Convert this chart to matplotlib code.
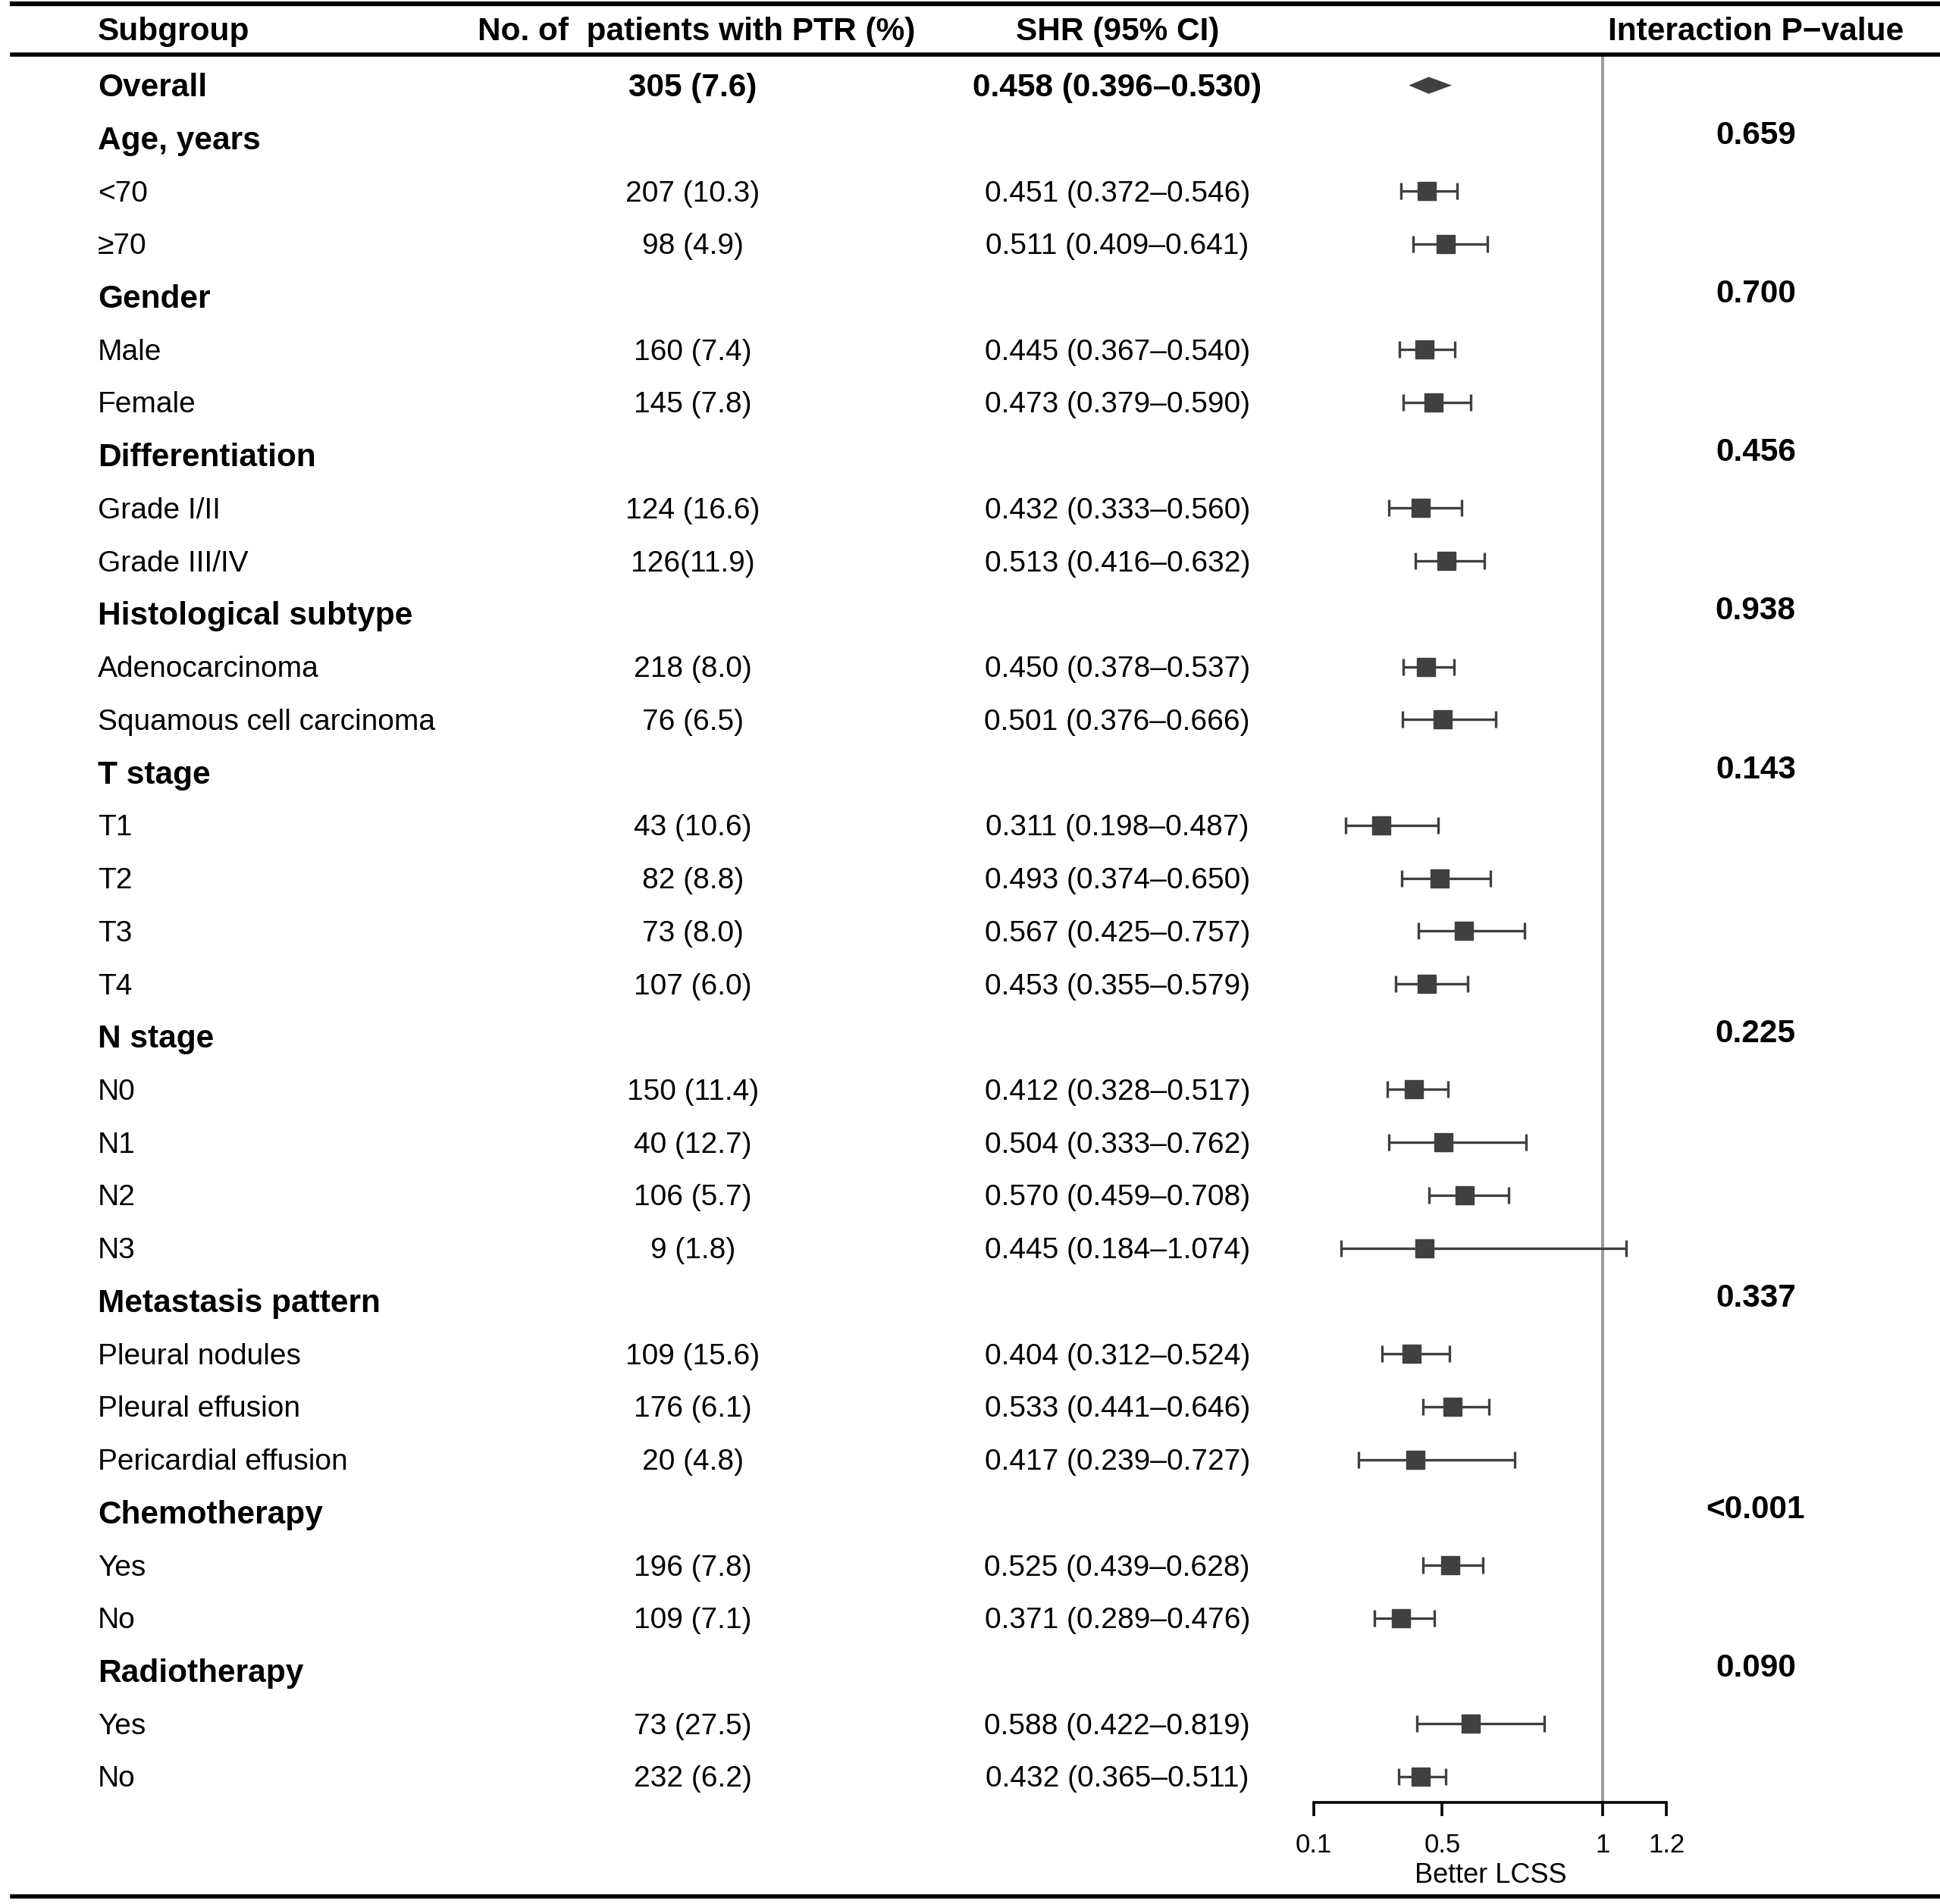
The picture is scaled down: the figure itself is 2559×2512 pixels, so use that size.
import matplotlib
matplotlib.use('Agg')
import matplotlib.pyplot as plt
from matplotlib.transforms import blended_transform_factory

plt.rcParams['font.family'] = ['Liberation Sans', 'DejaVu Sans']

labels = ['Overall', 'Age, years', '<70', '\u226570', 'Gender', 'Male', 'Female',
          'Differentiation', 'Grade I/II', 'Grade III/IV', 'Histological subtype',
          'Adenocarcinoma', 'Squamous cell carcinoma', 'T stage', 'T1', 'T2', 'T3', 'T4',
          'N stage', 'N0', 'N1', 'N2', 'N3', 'Metastasis pattern', 'Pleural nodules',
          'Pleural effusion', 'Pericardial effusion', 'Chemotherapy', 'Yes', 'No',
          'Radiotherapy', 'Yes', 'No']
is_header = [True, True, False, False, True, False, False, True, False, False, True,
             False, False, True, False, False, False, False, True, False, False, False,
             False, True, False, False, False, True, False, False, True, False, False]
n_ptr = ['305 (7.6)', '', '207 (10.3)', '98 (4.9)', '', '160 (7.4)', '145 (7.8)',
         '', '124 (16.6)', '126(11.9)', '', '218 (8.0)', '76 (6.5)', '',
         '43 (10.6)', '82 (8.8)', '73 (8.0)', '107 (6.0)', '', '150 (11.4)',
         '40 (12.7)', '106 (5.7)', '9 (1.8)', '', '109 (15.6)', '176 (6.1)',
         '20 (4.8)', '', '196 (7.8)', '109 (7.1)', '', '73 (27.5)', '232 (6.2)']
shr = [0.458, None, 0.451, 0.511, None, 0.445, 0.473, None, 0.432, 0.513, None,
       0.450, 0.501, None, 0.311, 0.493, 0.567, 0.453, None, 0.412, 0.504, 0.570,
       0.445, None, 0.404, 0.533, 0.417, None, 0.525, 0.371, None, 0.588, 0.432]
ci_lo = [0.396, None, 0.372, 0.409, None, 0.367, 0.379, None, 0.333, 0.416, None,
         0.378, 0.376, None, 0.198, 0.374, 0.425, 0.355, None, 0.328, 0.333, 0.459,
         0.184, None, 0.312, 0.441, 0.239, None, 0.439, 0.289, None, 0.422, 0.365]
ci_hi = [0.530, None, 0.546, 0.641, None, 0.540, 0.590, None, 0.560, 0.632, None,
         0.537, 0.666, None, 0.487, 0.650, 0.757, 0.579, None, 0.517, 0.762, 0.708,
         1.074, None, 0.524, 0.646, 0.727, None, 0.628, 0.476, None, 0.819, 0.511]
p_inter = {1: '0.659', 4: '0.700', 7: '0.456', 10: '0.938', 13: '0.143',
           18: '0.225', 23: '0.337', 27: '<0.001', 30: '0.090'}
xticks = [0.1, 0.5, 1, 1.2]

W, H = 1568.0, 1539.0   # layout measured on the shrunk reference
row0, row_h = 69.0, 42.72
nrows = len(labels)

fig = plt.figure(figsize=(25.59, 25.12), dpi=100)
y_top = row0 - 0.6 * row_h
y_bot = row0 + (nrows - 1 + 0.49) * row_h
ax = fig.add_axes([1062 / W, 1 - y_bot / H, (1347 - 1062) / W, (y_bot - y_top) / H])
ax.set_xlim(0.1, 1.2)
ax.set_ylim(nrows - 1 + 0.49, -0.6)
for s in ['top', 'left', 'right']:
    ax.spines[s].set_visible(False)
ax.spines['bottom'].set_linewidth(2.6)
ax.set_yticks([])
ax.set_xticks(xticks)
ax.set_xticklabels(['0.1', '0.5', '1', '1.2'])
ax.tick_params(axis='x', length=13, width=2.6, labelsize=25, pad=16)
ax.set_xlabel('Better LCSS', fontsize=26, labelpad=4)
ax.patch.set_alpha(0)

ax.axvline(1, color='#9a9a9a', lw=2.8, zorder=1)

col = '#404040'
for i in range(nrows):
    if shr[i] is None:
        continue
    if i == 0:
        h = 0.16
        ax.fill([ci_lo[i], shr[i], ci_hi[i], shr[i]], [i, i - h, i, i + h],
                color=col, zorder=3, lw=0)
    else:
        ax.errorbar(shr[i], i, xerr=[[shr[i] - ci_lo[i]], [ci_hi[i] - shr[i]]],
                    fmt='s', color=col, ms=17, elinewidth=2.4, capsize=8,
                    capthick=2.4, zorder=3)

tr = blended_transform_factory(fig.transFigure, ax.transData)
fs = 28      # regular text
fsb = 30.5   # bold text
dy = 0.05    # small nudge so text sits on the marker line
for i in range(nrows):
    w = 'bold' if is_header[i] else 'normal'
    f = fsb if is_header[i] else fs
    ax.text(79 / W, i + dy, labels[i], transform=tr, fontsize=f, fontweight=w,
            va='center', ha='left', clip_on=False)
    if n_ptr[i]:
        ax.text(560 / W, i + dy, n_ptr[i], transform=tr, fontsize=f, fontweight=w,
                va='center', ha='center', clip_on=False)
    if shr[i] is not None:
        txt = '%.3f (%.3f\u2013%.3f)' % (shr[i], ci_lo[i], ci_hi[i])
        ax.text(903 / W, i + dy, txt, transform=tr, fontsize=f, fontweight=w,
                va='center', ha='center', clip_on=False)
    if i in p_inter:
        ax.text(1419 / W, i - 0.05, p_inter[i], transform=tr, fontsize=fsb,
                fontweight='bold', va='center', ha='center', clip_on=False)

# header
hy = 1 - 26 / H
fig.text(79 / W, hy, 'Subgroup', fontsize=fsb, fontweight='bold', va='center')
fig.text(563 / W, hy, 'No. of  patients with PTR (%)', fontsize=fsb,
         fontweight='bold', va='center', ha='center')
fig.text(903 / W, hy, 'SHR (95% CI)', fontsize=fsb, fontweight='bold',
         va='center', ha='center')
fig.text(1419 / W, hy, 'Interaction P\u2212value', fontsize=fsb, fontweight='bold',
         va='center', ha='center')

# horizontal rules
for yy, lw in [(3, 4.5), (44, 4.0), (1533, 4.0)]:
    fig.add_artist(plt.Line2D([10 / W, 1.0], [1 - yy / H, 1 - yy / H],
                              transform=fig.transFigure, color='black', lw=lw))

fig.savefig('out.png', dpi=100)
